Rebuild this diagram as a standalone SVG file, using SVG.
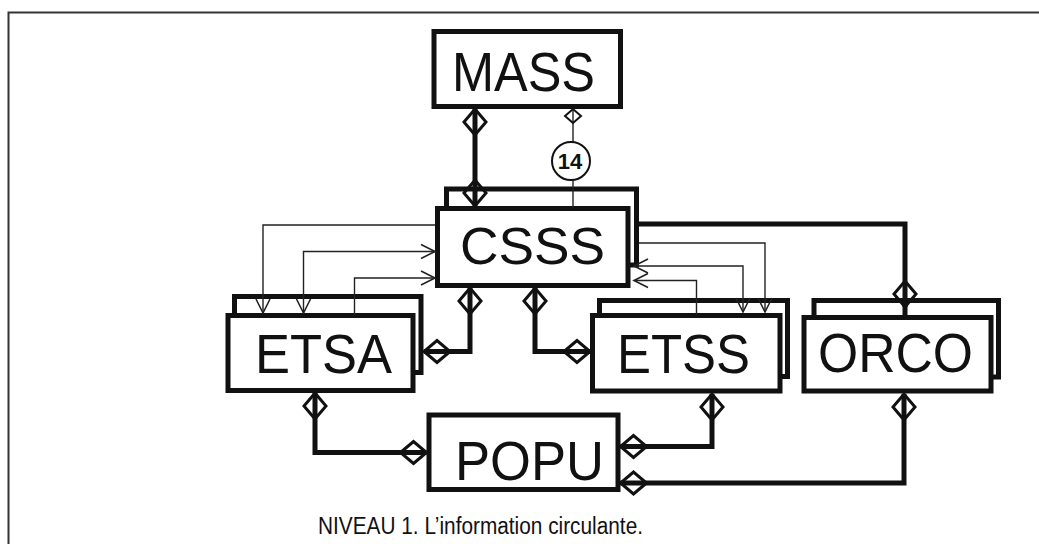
<svg xmlns="http://www.w3.org/2000/svg" width="1039" height="544" viewBox="0 0 1039 544">
  <style>
    .box { fill: #fff; stroke: #111; stroke-width: 5; }
    .label { font-family: "Liberation Sans", Arial, sans-serif; font-size: 56px; fill: #111; }
    .thick { fill: none; stroke: #111; stroke-width: 5; marker-start: url(#dia); marker-end: url(#dia); }
    .thin { fill: none; stroke: #222; stroke-width: 1.4; }
    .frame { fill: none; stroke: #333; stroke-width: 2; }
  </style>
  <defs>
    <!-- open diamond at the end of a relation line -->
    <marker id="dia" markerUnits="userSpaceOnUse" markerWidth="26" markerHeight="22" refX="26" refY="0" orient="auto-start-reverse" overflow="visible">
      <path d="M0,0 L13,-11 L26,0 L13,11 Z" fill="none" stroke="#111" stroke-width="3" stroke-linejoin="miter"/>
    </marker>
    <marker id="dia-s" markerUnits="userSpaceOnUse" markerWidth="14" markerHeight="16" refX="14" refY="0" orient="auto-start-reverse" overflow="visible">
      <path d="M0,0 L7,-8 L14,0 L7,8 Z" fill="none" stroke="#111" stroke-width="2"/>
    </marker>
    <!-- open arrowhead for information flows -->
    <marker id="arr" markerUnits="userSpaceOnUse" markerWidth="16" markerHeight="16" refX="14" refY="0" orient="auto-start-reverse" overflow="visible">
      <path d="M0,-7 L14,0 L0,7" fill="none" stroke="#222" stroke-width="1.6"/>
    </marker>
  </defs>

  <rect width="1039" height="544" fill="#fff"/>

  <!-- page frame -->
  <path class="frame" d="M8.5,544 V12.5 H1039"/>

  <g id="nodes">
    <g id="MASS">
      <rect class="box" x="434" y="31.5" width="186.5" height="75"/>
      <text class="label" x="452" y="90.5" textLength="143" lengthAdjust="spacingAndGlyphs">MASS</text>
    </g>
    <g id="CSSS">
      <rect class="box" x="446.5" y="189" width="190" height="76"/>
      <rect class="box" x="437.5" y="208.5" width="190.5" height="77"/>
      <text class="label" x="460" y="264" style="font-size:52px" textLength="145" lengthAdjust="spacingAndGlyphs">CSSS</text>
    </g>
    <g id="ETSA">
      <rect class="box" x="234.5" y="296.5" width="186.5" height="76"/>
      <rect class="box" x="228" y="315.5" width="185" height="75"/>
      <text class="label" x="255" y="372.5" textLength="137" lengthAdjust="spacingAndGlyphs">ETSA</text>
    </g>
    <g id="ETSS">
      <rect class="box" x="599.5" y="300.5" width="188" height="76"/>
      <rect class="box" x="592.5" y="315.5" width="187.5" height="75.5"/>
      <text class="label" x="617" y="372.5" textLength="133" lengthAdjust="spacingAndGlyphs">ETSS</text>
    </g>
    <g id="ORCO">
      <rect class="box" x="814" y="300.5" width="184.5" height="76.5"/>
      <rect class="box" x="804" y="317.5" width="187" height="73.5"/>
      <text class="label" x="818" y="371.5" textLength="155" lengthAdjust="spacingAndGlyphs">ORCO</text>
    </g>
    <g id="POPU">
      <rect class="box" x="429" y="415" width="189" height="74.5"/>
      <text class="label" x="455" y="479.5" textLength="149" lengthAdjust="spacingAndGlyphs">POPU</text>
    </g>
  </g>

  <g id="connectors">
    <!-- structural links -->
    <path class="thick" d="M475,109 V206"/>
    <path class="thick" d="M470,288 V351.5 H424"/>
    <path class="thick" d="M535,288 V351.5 H590"/>
    <path fill="none" stroke="#111" stroke-width="5" marker-end="url(#dia)" d="M639,224 H905 V307"/>
    <path fill="none" stroke="#111" stroke-width="5" d="M905,305 V315"/>
    <path class="thick" d="M315,393 V452.5 H426.5"/>
    <path class="thick" d="M712,394 V446.5 H620.5"/>
    <path class="thick" d="M904,394 V483 H620.5"/>

    <!-- labelled link 14 -->
    <g id="link14">
      <path fill="none" stroke="#222" stroke-width="1.4" marker-start="url(#dia-s)" d="M573,109 V142"/>
      <path fill="none" stroke="#222" stroke-width="1.4" d="M573,180 V208"/>
      <ellipse cx="571" cy="161" rx="19" ry="19" fill="#fff" stroke="#111" stroke-width="2"/>
      <text x="570" y="169" text-anchor="middle" font-family="Liberation Sans, Arial, sans-serif" font-size="22" font-weight="bold" fill="#111">14</text>
    </g>

    <!-- information flows CSSS / ETSA -->
    <path class="thin" marker-end="url(#arr)" d="M435,225 H263 V313"/>
    <path class="thin" marker-start="url(#arr)" marker-end="url(#arr)" d="M303.5,313 V251.5 H435"/>
    <path class="thin" marker-end="url(#arr)" d="M354.5,315 V278 H435"/>

    <!-- information flows CSSS / ETSS -->
    <path class="thin" marker-end="url(#arr)" d="M639,243 H765 V312"/>
    <path class="thin" marker-start="url(#arr)" marker-end="url(#arr)" d="M634,266 H743 V312"/>
    <path class="thin" marker-end="url(#arr)" d="M696.5,315 V280.5 H634"/>
  </g>

  <text x="318" y="534" font-family="Liberation Sans, Arial, sans-serif" font-size="23" fill="#111" textLength="325" lengthAdjust="spacingAndGlyphs">NIVEAU 1. L’information circulante.</text>
</svg>
